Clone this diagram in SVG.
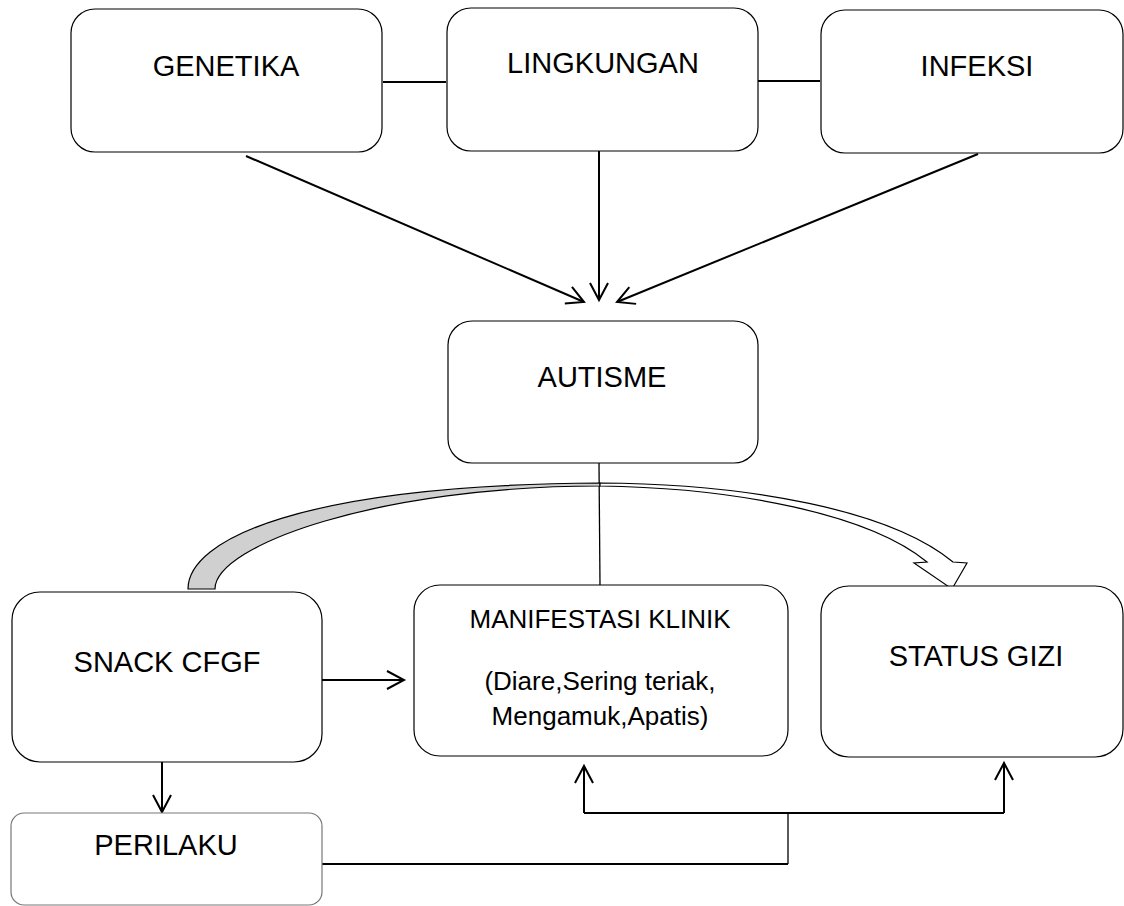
<svg xmlns="http://www.w3.org/2000/svg" width="1124" height="906" viewBox="0 0 1124 906">
<defs>
<style>
.box{fill:#fff;stroke:#000;stroke-width:1.2}
.lbl{font-family:"Liberation Sans",Arial,sans-serif;font-size:29px;fill:#000;text-anchor:middle}
.sm{font-size:26px}
.ln{fill:none;stroke:#000;stroke-width:2}
.thin{fill:none;stroke:#000;stroke-width:1.3}
.arr{marker-end:url(#open)}
</style>
<marker id="open" markerUnits="userSpaceOnUse" markerWidth="24" markerHeight="24" viewBox="0 0 24 24" refX="20" refY="12" orient="auto">
<path d="M3,3 L20,12 L3,21" fill="none" stroke="#000" stroke-width="2"/>
</marker>
</defs>
<rect width="1124" height="906" fill="#fff"/>

<g id="connectors">
<line class="ln" x1="383" y1="82" x2="446" y2="82"/>
<line class="ln" x1="758" y1="81" x2="820" y2="81"/>
<line class="ln arr" x1="246" y1="156" x2="584" y2="302"/>
<line class="ln arr" x1="599" y1="151" x2="599" y2="300"/>
<line class="ln arr" x1="978" y1="154" x2="617" y2="302"/>
<line class="thin" x1="599" y1="463" x2="600" y2="585"/>
<path d="M188,589 C188,540 300,485 600,483 L600,486 C380,486 215,545 215,589 Z" fill="#d0d0d0" stroke="#000" stroke-width="1.2"/>
<path d="M600,483 C750,484 890,510 953,562 L967,563 L952,589 L914,563 L927,562 C870,515 740,488 600,486 Z" fill="#fff" stroke="#000" stroke-width="1.2"/>
<line class="ln arr" x1="322" y1="680" x2="404" y2="680"/>
<line class="ln arr" x1="162" y1="762" x2="162" y2="812"/>
<polyline class="ln" points="322,864 788,864"/>
<line class="thin" x1="788" y1="864" x2="788" y2="813"/>
<line class="ln" x1="584" y1="813" x2="1004" y2="813"/>
<line class="ln arr" x1="584" y1="813" x2="584" y2="766"/>
<line class="ln arr" x1="1004" y1="813" x2="1004" y2="763"/>
</g>

<g id="genetika">
<rect class="box" x="71" y="9" width="311" height="143" rx="24"/>
<text class="lbl" x="226" y="76">GENETIKA</text>
</g>
<g id="lingkungan">
<rect class="box" x="447" y="8" width="311" height="143" rx="24"/>
<text class="lbl" x="603" y="73">LINGKUNGAN</text>
</g>
<g id="infeksi">
<rect class="box" x="821" y="10" width="302" height="143" rx="24"/>
<text class="lbl" x="977" y="76">INFEKSI</text>
</g>
<g id="autisme">
<rect class="box" x="448" y="321" width="310" height="142" rx="24"/>
<text class="lbl" x="602" y="387">AUTISME</text>
</g>
<g id="snack">
<rect class="box" x="12" y="592" width="310" height="170" rx="28"/>
<text class="lbl" x="167" y="672">SNACK CFGF</text>
</g>
<g id="manifestasi">
<rect class="box" x="414" y="585" width="374" height="171" rx="26"/>
<text class="lbl sm" x="600" y="628">MANIFESTASI KLINIK</text>
<text class="lbl sm" x="600" y="690">(Diare,Sering teriak,</text>
<text class="lbl sm" x="600" y="725">Mengamuk,Apatis)</text>
</g>
<g id="statusgizi">
<rect class="box" x="821" y="586" width="302" height="171" rx="28"/>
<text class="lbl" x="976" y="666">STATUS GIZI</text>
</g>
<g id="perilaku">
<rect x="11" y="813" width="311" height="92" rx="13" fill="#fff" stroke="#777" stroke-width="1.2"/>
<text class="lbl" x="166" y="855">PERILAKU</text>
</g>
</svg>
